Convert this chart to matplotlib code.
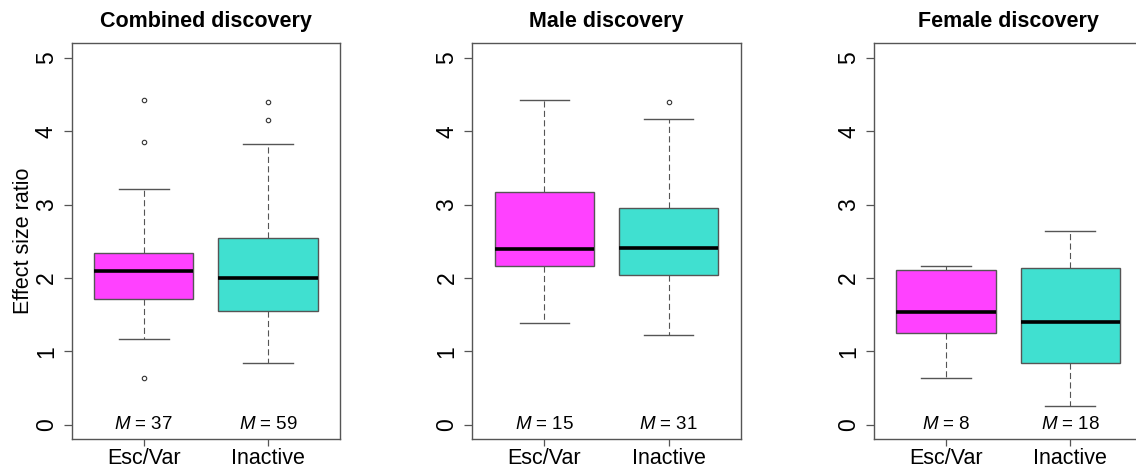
import matplotlib
matplotlib.use("Agg")
import matplotlib.pyplot as plt

plt.rcParams['font.family'] = ['Liberation Sans', 'DejaVu Sans']
plt.rcParams['mathtext.fontset'] = 'custom'
plt.rcParams['mathtext.rm'] = 'Liberation Sans'
plt.rcParams['mathtext.it'] = 'Liberation Sans:italic'

# group names and panel titles
groups = ['Esc/Var', 'Inactive']
titles = ['Combined discovery', 'Male discovery', 'Female discovery']
counts = [[37, 59], [15, 31], [8, 18]]

# box statistics per panel: [Esc/Var, Inactive]
whislo = [[1.17, 0.84], [1.38, 1.22], [0.63, 0.26]]
q1 = [[1.72, 1.55], [2.16, 2.04], [1.25, 0.84]]
med = [[2.10, 2.00], [2.40, 2.41], [1.53, 1.40]]
q3 = [[2.34, 2.54], [3.17, 2.96], [2.11, 2.14]]
whishi = [[3.21, 3.83], [4.43, 4.17], [2.16, 2.64]]
fliers = [[[4.42, 3.85, 0.63], [4.40, 4.16]],
          [[], [4.40]],
          [[], []]]

box_colors = ['#FF41FF', '#40E0D0']
edge = '#555555'

fig = plt.figure(figsize=(11.36, 4.70), dpi=100)
lefts = [0.0631, 0.4158, 0.7694]

for p in range(3):
    ax = fig.add_axes([lefts[p], 0.0653, 0.2362, 0.8426])
    stats = []
    for g in range(2):
        stats.append(dict(whislo=whislo[p][g], q1=q1[p][g], med=med[p][g],
                          q3=q3[p][g], whishi=whishi[p][g], fliers=fliers[p][g]))
    bp = ax.bxp(stats, positions=[1, 2], widths=0.8, patch_artist=True,
                showfliers=True, capwidths=0.4,
                boxprops=dict(edgecolor=edge, linewidth=1.0),
                medianprops=dict(color='black', linewidth=2.6, solid_capstyle='butt'),
                whiskerprops=dict(color=edge, linewidth=0.8, linestyle=(0, (5.5, 3))),
                capprops=dict(color=edge, linewidth=1.0),
                flierprops=dict(marker='o', markersize=3.2, markerfacecolor='none',
                                markeredgecolor='#333333', markeredgewidth=0.8))
    for patch, c in zip(bp['boxes'], box_colors):
        patch.set_facecolor(c)

    for g in range(2):
        ax.text(g + 1, 0, f'$M$ = {counts[p][g]}', ha='center', va='center',
                fontsize=13.5)

    ax.set_xlim(0.42, 2.58)
    ax.set_ylim(-0.2, 5.2)
    ax.set_yticks([0, 1, 2, 3, 4, 5])
    ax.set_xticks([1, 2])
    ax.set_xticklabels(groups)
    ax.tick_params(axis='y', labelrotation=90, length=6, width=0.9, color=edge,
                   labelsize=16.5, pad=4)
    ax.tick_params(axis='x', length=5, width=0.9, color=edge, labelsize=15.5, pad=1.5)
    for lab in ax.get_yticklabels():
        lab.set_verticalalignment('center')
    for s in ax.spines.values():
        s.set_color(edge)
        s.set_linewidth(1.0)
    if p == 2:
        # right edge of the last panel runs off the page
        ax.spines['right'].set_visible(False)
    ax.set_title(titles[p], fontsize=15.5, fontweight='bold', pad=12)
    if p == 0:
        ax.set_ylabel('Effect size ratio', fontsize=15.5)
        ax.yaxis.set_label_coords(-0.14, 0.5)

fig.savefig('out.png', dpi=100)
